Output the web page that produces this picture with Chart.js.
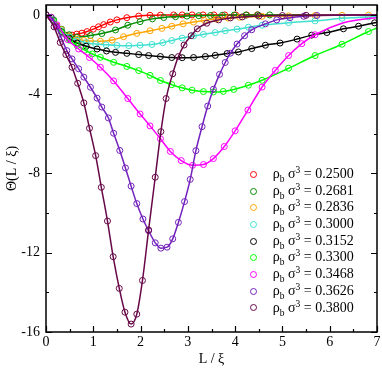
<!DOCTYPE html>
<html>
<head>
<meta charset="utf-8">
<script src="https://cdn.jsdelivr.net/npm/chart.js@4.4.1/dist/chart.umd.min.js"></script>
<style>
  html, body { margin: 0; padding: 0; background: #fff; }
  #wrap { position: relative; width: 382px; height: 369px; }
  #legend { position: absolute; left: 250px; top: 166px; font-family: "Liberation Serif", serif; font-size: 14px; color: #000; }
  #legend .row { position: relative; height: 16.7px; width: 120px; }
  #legend .dot { position: absolute; left: 0; top: 4.85px; width: 5px; height: 5px; border: 1px solid; border-radius: 50%; }
  #legend .txt { position: absolute; left: 22.7px; top: 0; line-height: 16.7px; white-space: nowrap; }
  #legend sub, #legend sup { font-size: 9.5px; vertical-align: baseline; position: relative; }
  #legend sub { top: 4px; }
  #legend sup { top: -5px; }
</style>
</head>
<body>
<div id="wrap">
  <canvas id="chart"></canvas>
  <div id="legend"></div>
</div>
<script>
// rho_b sigma^3 of each curve
const densities = ['0.2500', '0.2681', '0.2836', '0.3000', '0.3152', '0.3300', '0.3468', '0.3626', '0.3800'];
const colors = ['#ff0000', '#008b00', '#ffa500', '#40e0d0', '#000000', '#00ff00', '#ff00ff', '#7221bc', '#670748'];

// axis ticks
const xTicks = [0, 1, 2, 3, 4, 5, 6, 7];
const xMinor = [0.5, 1.5, 2.5, 3.5, 4.5, 5.5, 6.5];
const yTicks = [0, -4, -8, -12, -16];
const yMinor = [-2, -6, -10, -14];

// L/xi and Theta(L/xi) for each density
const x2500 = [0, 0.11, 0.22, 0.33, 0.44, 0.55, 0.65, 0.76, 0.87, 1.0, 1.11, 1.22, 1.36, 1.5, 1.71, 1.96, 2.2, 2.42, 2.7, 2.88, 3.09, 3.32, 3.55, 3.78, 4.01, 4.24, 4.47, 5.2, 6.0, 7.0];
const y2500 = [0, -0.12, -0.55, -0.88, -1.04, -1.02, -0.97, -0.92, -0.84, -0.72, -0.6, -0.49, -0.36, -0.25, -0.14, -0.06, -0.02, -0.01, 0, 0, 0, 0, 0, 0, 0, 0, 0, 0, 0, 0];

const x2681 = [0, 0.16, 0.33, 0.49, 0.65, 0.94, 1.18, 1.47, 1.73, 1.99, 2.25, 2.49, 2.74, 2.98, 3.23, 3.48, 3.73, 3.98, 4.23, 4.48, 4.73, 5.5, 7.0];
const y2681 = [0, -0.25, -0.72, -1.0, -1.12, -1.04, -0.94, -0.76, -0.52, -0.34, -0.2, -0.13, -0.09, -0.06, -0.04, -0.03, -0.02, -0.01, -0.01, 0, 0, 0, 0];

const x2836 = [0, 0.16, 0.33, 0.5, 0.66, 0.8, 0.94, 1.15, 1.4, 1.64, 1.92, 2.2, 2.45, 2.66, 2.9, 3.12, 3.35, 3.6, 3.85, 4.1, 4.57, 5.13, 5.69, 6.26, 6.82, 7.0];
const y2836 = [0, -0.25, -0.75, -1.08, -1.22, -1.29, -1.32, -1.33, -1.27, -1.1, -0.93, -0.8, -0.68, -0.57, -0.45, -0.36, -0.28, -0.21, -0.16, -0.12, -0.07, -0.05, -0.03, -0.02, -0.01, -0.01];

const x3000 = [0, 0.16, 0.33, 0.5, 0.66, 0.85, 1.05, 1.27, 1.5, 1.75, 1.99, 2.24, 2.47, 2.66, 2.88, 3.12, 3.33, 3.58, 3.79, 4.04, 4.28, 4.57, 5.13, 5.69, 6.26, 6.82, 7.0];
const y3000 = [0, -0.25, -0.8, -1.12, -1.28, -1.4, -1.47, -1.51, -1.54, -1.55, -1.53, -1.49, -1.4, -1.29, -1.17, -1.06, -0.98, -0.89, -0.8, -0.72, -0.62, -0.52, -0.39, -0.3, -0.17, -0.1, -0.09];

const x3152 = [0, 0.16, 0.33, 0.5, 0.66, 0.85, 1.08, 1.28, 1.47, 1.71, 1.96, 2.17, 2.42, 2.66, 2.88, 3.12, 3.37, 3.58, 3.83, 4.07, 4.35, 4.64, 4.95, 5.31, 5.62, 5.94, 6.29, 6.61, 6.95, 7.0];
const y3152 = [0, -0.28, -0.85, -1.2, -1.42, -1.58, -1.72, -1.82, -1.89, -1.94, -2.0, -2.05, -2.1, -2.15, -2.16, -2.15, -2.1, -2.04, -1.95, -1.87, -1.7, -1.53, -1.42, -1.22, -1.02, -0.89, -0.7, -0.57, -0.4, -0.38];

const x3300 = [0, 0.16, 0.33, 0.5, 0.66, 0.82, 0.98, 1.15, 1.43, 1.71, 1.96, 2.2, 2.42, 2.66, 2.88, 3.09, 3.33, 3.54, 3.75, 3.97, 4.28, 4.57, 5.13, 5.69, 6.26, 6.82, 7.0];
const y3300 = [0, -0.28, -0.88, -1.28, -1.55, -1.78, -1.97, -2.14, -2.39, -2.6, -2.81, -3.05, -3.31, -3.52, -3.68, -3.8, -3.87, -3.89, -3.86, -3.76, -3.55, -3.3, -2.69, -2.05, -1.48, -0.84, -0.66];

const x3468 = [0, 0.23, 0.46, 0.69, 0.92, 1.15, 1.43, 1.73, 1.99, 2.2, 2.42, 2.63, 2.86, 3.1, 3.33, 3.54, 3.77, 4.0, 4.27, 4.57, 4.85, 5.13, 5.41, 5.69, 6.26, 6.82, 7.0];
const y3468 = [0, -0.5, -1.25, -1.72, -2.15, -2.64, -3.33, -4.22, -5.0, -5.6, -6.25, -6.89, -7.35, -7.59, -7.55, -7.25, -6.64, -5.85, -4.8, -3.64, -2.8, -2.05, -1.45, -1.0, -0.42, -0.18, -0.14];

const x3626 = [0, 0.11, 0.22, 0.33, 0.44, 0.55, 0.69, 0.8, 0.94, 1.08, 1.18, 1.32, 1.43, 1.56, 1.68, 1.8, 1.92, 2.05, 2.17, 2.31, 2.43, 2.56, 2.68, 2.8, 2.93, 3.05, 3.17, 3.3, 3.42, 3.54, 3.67, 3.79, 3.9, 4.04, 4.2, 4.35, 4.64, 4.88, 5.16, 5.45, 5.73, 7.0];
const y3626 = [0, -0.12, -0.6, -1.2, -1.8, -2.22, -2.72, -3.14, -3.65, -4.2, -4.65, -5.2, -5.97, -6.84, -7.72, -8.64, -9.52, -10.3, -10.89, -11.5, -11.77, -11.72, -11.3, -10.47, -9.42, -8.3, -6.85, -5.64, -4.6, -3.75, -3.0, -2.4, -1.93, -1.47, -1.05, -0.75, -0.45, -0.25, -0.14, -0.07, -0.03, 0];

const x3800 = [0, 0.17, 0.3, 0.42, 0.55, 0.67, 0.8, 0.92, 1.05, 1.17, 1.3, 1.42, 1.55, 1.67, 1.8, 1.92, 2.04, 2.17, 2.31, 2.43, 2.54, 2.68, 2.8, 2.92, 3.07, 3.2, 3.4, 3.65, 3.9, 4.15, 4.5, 5.0, 5.5, 7.0];
const y3800 = [0, -0.6, -1.39, -2.0, -2.64, -3.45, -4.44, -5.72, -7.1, -8.7, -10.4, -12.2, -13.8, -15.0, -15.6, -15.1, -13.4, -10.85, -8.19, -5.89, -4.22, -2.97, -2.1, -1.52, -1.05, -0.7, -0.42, -0.25, -0.15, -0.1, -0.06, -0.03, -0.02, 0];

// simulation points only up to here, the fitted line goes on to 7
const markerMax = [4.5, 4.75, 6.9, 6.9, 6.96, 6.9, 5.7, 5.75, 5.5];

const seriesX = [x2500, x2681, x2836, x3000, x3152, x3300, x3468, x3626, x3800];
const seriesY = [y2500, y2681, y2836, y3000, y3152, y3300, y3468, y3626, y3800];

const serif = '"Liberation Serif", "DejaVu Serif", serif';

// grace style frame with inward ticks on all sides
const frameTicks = {
  id: 'frameTicks',
  afterDatasetsDraw(chart) {
    const { ctx, chartArea: a, scales: { x, y } } = chart;
    ctx.save();
    ctx.strokeStyle = '#000';
    ctx.lineWidth = 1.2;
    ctx.beginPath();
    const xt = (v, len) => {
      const p = Math.round(x.getPixelForValue(v)) + 0.5;
      ctx.moveTo(p, a.bottom); ctx.lineTo(p, a.bottom - len);
      ctx.moveTo(p, a.top); ctx.lineTo(p, a.top + len);
    };
    const yt = (v, len) => {
      const p = Math.round(y.getPixelForValue(v)) + 0.5;
      ctx.moveTo(a.left, p); ctx.lineTo(a.left + len, p);
      ctx.moveTo(a.right, p); ctx.lineTo(a.right - len, p);
    };
    xTicks.forEach(v => xt(v, 6));
    xMinor.forEach(v => xt(v, 3));
    yTicks.forEach(v => yt(v, 6));
    yMinor.forEach(v => yt(v, 3));
    ctx.stroke();
    ctx.lineWidth = 1.5;
    ctx.strokeRect(a.left, a.top, a.right - a.left, a.bottom - a.top);
    ctx.restore();
  }
};

const datasets = densities.map((d, i) => ({
  label: d,
  data: seriesX[i].map((x, k) => ({ x: x, y: seriesY[i][k] })),
  showLine: true,
  borderColor: colors[i],
  backgroundColor: 'rgba(0,0,0,0)',
  borderWidth: 1.5,
  pointBorderColor: colors[i],
  pointBackgroundColor: 'rgba(0,0,0,0)',
  pointBorderWidth: 1,
  pointRadius: ctx => (ctx.raw && ctx.raw.x <= markerMax[ctx.datasetIndex]) ? 3 : 0,
  cubicInterpolationMode: 'monotone',
  order: densities.length - i
}));

new Chart(document.getElementById('chart'), {
  type: 'scatter',
  data: { datasets: datasets },
  options: {
    responsive: true,
    maintainAspectRatio: false,
    animation: false,
    layout: { padding: { top: 2, right: 5, left: 0, bottom: 0 } },
    plugins: { legend: { display: false }, tooltip: { enabled: false } },
    scales: {
      x: {
        type: 'linear', min: 0, max: 7,
        afterBuildTicks: s => { s.ticks = xTicks.map(v => ({ value: v })); },
        afterFit: s => { s.height = 37; s.paddingLeft = 0; s.paddingRight = 0; },
        grid: { display: false, drawTicks: false },
        border: { display: false },
        ticks: { color: '#000', padding: 2, font: { family: serif, size: 14 } },
        title: { display: true, text: 'L / ξ', color: '#000', padding: { top: 0, bottom: 1 }, font: { family: serif, size: 14 } }
      },
      y: {
        type: 'linear', min: -16, max: 0.5,
        afterBuildTicks: s => { s.ticks = yTicks.map(v => ({ value: v })); },
        afterFit: s => { s.width = 46; s.paddingTop = 0; s.paddingBottom = 0; },
        grid: { display: false, drawTicks: false },
        border: { display: false },
        ticks: { color: '#000', padding: 6, font: { family: serif, size: 14 } },
        title: { display: true, text: 'Θ(L / ξ)', color: '#000', font: { family: serif, size: 14 } }
      }
    }
  },
  plugins: [frameTicks]
});

// legend with sub/superscripts
document.getElementById('legend').innerHTML = densities.map((d, i) =>
  '<div class="row"><span class="dot" style="border-color:' + colors[i] + '"></span>' +
  '<span class="txt">ρ<sub>b</sub> σ<sup>3</sup> = ' + d + '</span></div>'
).join('');
</script>
</body>
</html>
